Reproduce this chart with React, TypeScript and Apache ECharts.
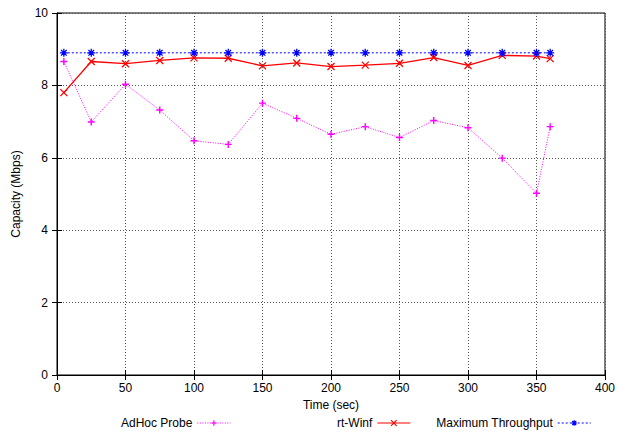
import React, { useEffect, useRef } from "react";
import * as echarts from "echarts";

const times = [5, 25, 50, 75, 100, 125, 150, 175, 200, 225, 250, 275, 300, 325, 350, 360];
const adhocProbe = [8.66, 6.99, 8.03, 7.32, 6.47, 6.37, 7.51, 7.09, 6.65, 6.86, 6.56, 7.03, 6.83, 5.99, 5.02, 6.86];
const rtWinf = [7.8, 8.66, 8.6, 8.69, 8.76, 8.75, 8.54, 8.62, 8.52, 8.56, 8.61, 8.77, 8.55, 8.83, 8.81, 8.74];
const maxThroughput = [8.9, 8.9, 8.9, 8.9, 8.9, 8.9, 8.9, 8.9, 8.9, 8.9, 8.9, 8.9, 8.9, 8.9, 8.9, 8.9];
const seriesNames = ["AdHoc Probe", "rt-Winf", "Maximum Throughput"];

const FONT = "Liberation Sans, Arial, Helvetica, sans-serif";
const plusPath = "path://M0,5L10,5M5,0L5,10";
const crossPath = "path://M1,1L9,9M1,9L9,1";
const starPath = "path://M0,5L10,5M5,0L5,10M1.5,1.5L8.5,8.5M1.5,8.5L8.5,1.5";

export default function App() {
  const ref = useRef<HTMLDivElement>(null);
  useEffect(() => {
    if (!ref.current) return;
    const chart = echarts.init(ref.current, undefined, { renderer: "svg" });
    const pair = (vals: number[]) => times.map((t, i) => [t, vals[i]]);
    const gridLine = { show: true, lineStyle: { color: "#555", type: [1, 2] as any, width: 1 } };
    const legendBase = {
      orient: "horizontal" as const,
      align: "right" as const,
      top: 417,
      padding: 0,
      itemWidth: 33,
      itemHeight: 7,
      itemStyle: { borderWidth: 1.2 },
      lineStyle: { width: 1.2 },
      textStyle: { fontFamily: FONT, fontSize: 12, color: "#000" },
      selectedMode: false,
    };
    chart.setOption({
      animation: false,
      backgroundColor: "#fff",
      textStyle: { fontFamily: FONT },
      grid: { left: 57, top: 13, right: 12, bottom: 61, show: true, borderColor: "#000", borderWidth: 1, backgroundColor: "transparent" },
      legend: [
        { ...legendBase, left: 121, data: [seriesNames[0]] },
        { ...legendBase, left: 337, data: [seriesNames[1]] },
        { ...legendBase, left: 436, data: [seriesNames[2]] },
      ],
      xAxis: [
        {
          type: "value", min: 0, max: 400, interval: 50, position: "bottom",
          name: "Time (sec)", nameLocation: "middle", nameGap: 23,
          nameTextStyle: { fontFamily: FONT, fontSize: 12, color: "#000" },
          axisLine: { show: true, lineStyle: { color: "#000", width: 1 } },
          axisTick: { show: true, inside: true, length: 5, lineStyle: { color: "#000" } },
          axisLabel: { fontFamily: FONT, fontSize: 12, color: "#000", margin: 7 },
          splitLine: gridLine,
        },
        {
          type: "value", min: 0, max: 400, interval: 50, position: "top",
          axisLine: { show: true, lineStyle: { color: "#000", width: 1 } },
          axisTick: { show: true, inside: true, length: 5, lineStyle: { color: "#000" } },
          axisLabel: { show: false },
          splitLine: { show: false },
        },
      ],
      yAxis: [
        {
          type: "value", min: 0, max: 10, interval: 2, position: "left",
          name: "Capacity (Mbps)", nameLocation: "middle", nameGap: 35,
          nameTextStyle: { fontFamily: FONT, fontSize: 12, color: "#000" },
          axisLine: { show: true, lineStyle: { color: "#000", width: 1 } },
          axisTick: { show: true, inside: true, length: 5, lineStyle: { color: "#000" } },
          axisLabel: { fontFamily: FONT, fontSize: 12, color: "#000", margin: 9 },
          splitLine: gridLine,
        },
        {
          type: "value", min: 0, max: 10, interval: 2, position: "right",
          axisLine: { show: true, lineStyle: { color: "#000", width: 1 } },
          axisTick: { show: true, inside: true, length: 5, lineStyle: { color: "#000" } },
          axisLabel: { show: false },
          splitLine: { show: false },
        },
      ],
      series: [
        {
          name: seriesNames[0], type: "line", data: pair(adhocProbe),
          symbol: plusPath, symbolSize: 7,
          lineStyle: { color: "#ff00ff", width: 1, type: [1, 1.5] as any },
          itemStyle: { color: "#ff00ff", borderColor: "#ff00ff", borderWidth: 1.4 },
        },
        {
          name: seriesNames[1], type: "line", data: pair(rtWinf),
          symbol: crossPath, symbolSize: 7,
          lineStyle: { color: "#ff0000", width: 1.3 },
          itemStyle: { color: "#ff0000", borderColor: "#ff0000", borderWidth: 1.3 },
        },
        {
          name: seriesNames[2], type: "line", data: pair(maxThroughput),
          symbol: starPath, symbolSize: 8,
          lineStyle: { color: "#0000ff", width: 1, type: [2, 2] as any },
          itemStyle: { color: "#0000ff", borderColor: "#0000ff", borderWidth: 1.3 },
        },
      ],
    });
    return () => chart.dispose();
  }, []);
  return <div ref={ref} style={{ width: 618, height: 436, position: "absolute", left: 0, top: 0 }} />;
}
